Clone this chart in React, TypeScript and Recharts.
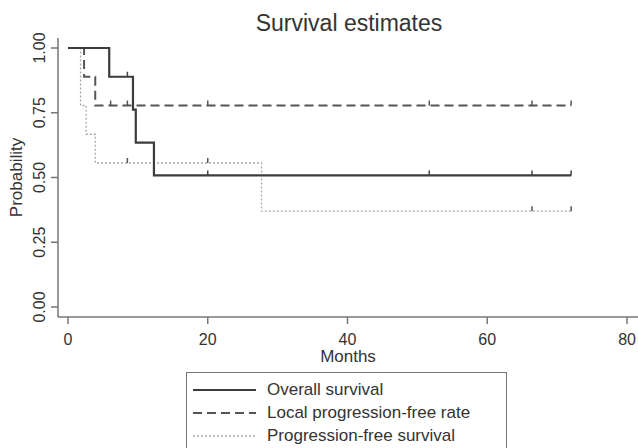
import React from 'react';
import { LineChart, Line, XAxis, YAxis, Legend } from 'recharts';

// Kaplan-Meier steps (months, probability, censored flag)
const osTimes = [0, 5.9, 8.5, 9.3, 9.7, 12.3, 20, 51.7, 66.4, 72];
const osSurv = [1, 0.889, 0.889, 0.762, 0.635, 0.508, 0.508, 0.508, 0.508, 0.508];
const osCensor = [0, 0, 1, 0, 0, 0, 1, 1, 1, 1];

const lpfTimes = [0, 2.3, 3.9, 6.1, 8.5, 20, 51.7, 66.4, 72];
const lpfSurv = [1, 0.889, 0.778, 0.778, 0.778, 0.778, 0.778, 0.778, 0.778];
const lpfCensor = [0, 0, 0, 1, 1, 1, 1, 1, 1];

const pfsTimes = [0, 1.8, 2.6, 3.9, 8.5, 20, 27.7, 66.4, 72];
const pfsSurv = [1, 0.778, 0.667, 0.556, 0.556, 0.556, 0.37, 0.37, 0.37];
const pfsCensor = [0, 0, 0, 0, 1, 1, 0, 1, 1];

const xTicks = [0, 20, 40, 60, 80];
const yTicks = [0, 0.25, 0.5, 0.75, 1];

const seriesNames = ['Overall survival', 'Local progression-free rate', 'Progression-free survival'];

const build = (t: number[], s: number[], c: number[]) =>
  t.map((v, i) => ({ t: v, s: s[i], c: c[i] }));

const osData = build(osTimes, osSurv, osCensor);
const lpfData = build(lpfTimes, lpfSurv, lpfCensor);
const pfsData = build(pfsTimes, pfsSurv, pfsCensor);

const FONT = 'Liberation Sans, Arial, Helvetica, sans-serif';
const AXIS = '#777';
const TEXT = '#333';

const styles = [
  { stroke: '#3c3c3c', width: 2.2, dash: undefined as string | undefined },
  { stroke: '#555', width: 2, dash: '9 5' },
  { stroke: '#a8a8a8', width: 1.3, dash: '2 2' },
];

const censorDot = (color: string) => (props: any) => {
  const { cx, cy, payload, key } = props;
  if (!payload || !payload.c) return <g key={key} />;
  return <line key={key} x1={cx} x2={cx} y1={cy - 5} y2={cy} stroke={color} strokeWidth={1.5} />;
};

const YTick = (props: any) => {
  const { x, y, payload } = props;
  const px = x - 4;
  return (
    <text x={px} y={y} transform={`rotate(-90, ${px}, ${y})`} textAnchor="middle"
      fontSize={16} fill={TEXT} fontFamily={FONT}>
      {payload.value.toFixed(2)}
    </text>
  );
};

const LegendBox = () => (
  <div style={{
    border: `1.5px solid ${AXIS}`, width: 321, height: 90, background: '#fff',
    fontFamily: FONT, fontSize: 17, color: TEXT, position: 'relative', boxSizing: 'border-box',
  }}>
    {seriesNames.map((name, i) => (
      <div key={name} style={{ position: 'absolute', left: 0, top: 17 + i * 23 - 12, height: 24, width: '100%' }}>
        <svg width={70} height={24} style={{ position: 'absolute', left: 0, top: 0 }}>
          <line x1={6} x2={69} y1={12} y2={12} stroke={styles[i].stroke}
            strokeWidth={styles[i].width} strokeDasharray={styles[i].dash} />
        </svg>
        <span style={{ position: 'absolute', left: 80, top: 1, whiteSpace: 'nowrap', lineHeight: '22px' }}>{name}</span>
      </div>
    ))}
  </div>
);

export default function App() {
  return (
    <div style={{ position: 'absolute', left: 0, top: 0, width: 638, height: 448, overflow: 'hidden', background: '#fff' }}>
      <div style={{
        position: 'absolute', left: 0, width: 698, top: 9, textAlign: 'center',
        fontFamily: FONT, fontSize: 23, color: TEXT, lineHeight: '28px',
      }}>
        Survival estimates
      </div>
      <LineChart width={638} height={448} margin={{ top: 38, right: 0, bottom: 91, left: 0 }}>
        <XAxis type="number" dataKey="t" domain={[-1.43, 81.57]} ticks={xTicks} allowDataOverflow
          stroke={AXIS} strokeWidth={1.5} tickSize={7} tickMargin={10} height={40}
          tick={{ fontSize: 16, fill: TEXT, fontFamily: FONT }}
          label={{
            content: (p: any) => {
              const vb = p.viewBox || {};
              return <text x={vb.x + vb.width / 2} y={362} textAnchor="middle" fontSize={17}
                fill={TEXT} fontFamily={FONT}>Months</text>;
            },
          }} />
        <YAxis type="number" dataKey="s" domain={[-0.0386, 1.0386]} ticks={yTicks} allowDataOverflow
          width={58} stroke={AXIS} strokeWidth={1.5} tickSize={7} tickMargin={2} tick={<YTick />}
          label={{
            content: (p: any) => {
              const vb = p.viewBox || {};
              const cy = vb.y + vb.height / 2;
              return <text x={22} y={cy} transform={`rotate(-90, 22, ${cy})`} textAnchor="middle"
                fontSize={17} fill={TEXT} fontFamily={FONT}>Probability</text>;
            },
          }} />
        <Legend layout="horizontal" verticalAlign="middle" align="center" content={<LegendBox />}
          wrapperStyle={{ left: 186, top: 372, width: 323, height: 90 }} />
        <Line data={pfsData} dataKey="s" name={seriesNames[2]} type="stepAfter" stroke={styles[2].stroke}
          strokeWidth={styles[2].width} strokeDasharray={styles[2].dash} dot={censorDot('#555')}
          activeDot={false} isAnimationActive={false} />
        <Line data={lpfData} dataKey="s" name={seriesNames[1]} type="stepAfter" stroke={styles[1].stroke}
          strokeWidth={styles[1].width} strokeDasharray={styles[1].dash} dot={censorDot('#555')}
          activeDot={false} isAnimationActive={false} />
        <Line data={osData} dataKey="s" name={seriesNames[0]} type="stepAfter" stroke={styles[0].stroke}
          strokeWidth={styles[0].width} dot={censorDot('#444')}
          activeDot={false} isAnimationActive={false} />
      </LineChart>
    </div>
  );
}
